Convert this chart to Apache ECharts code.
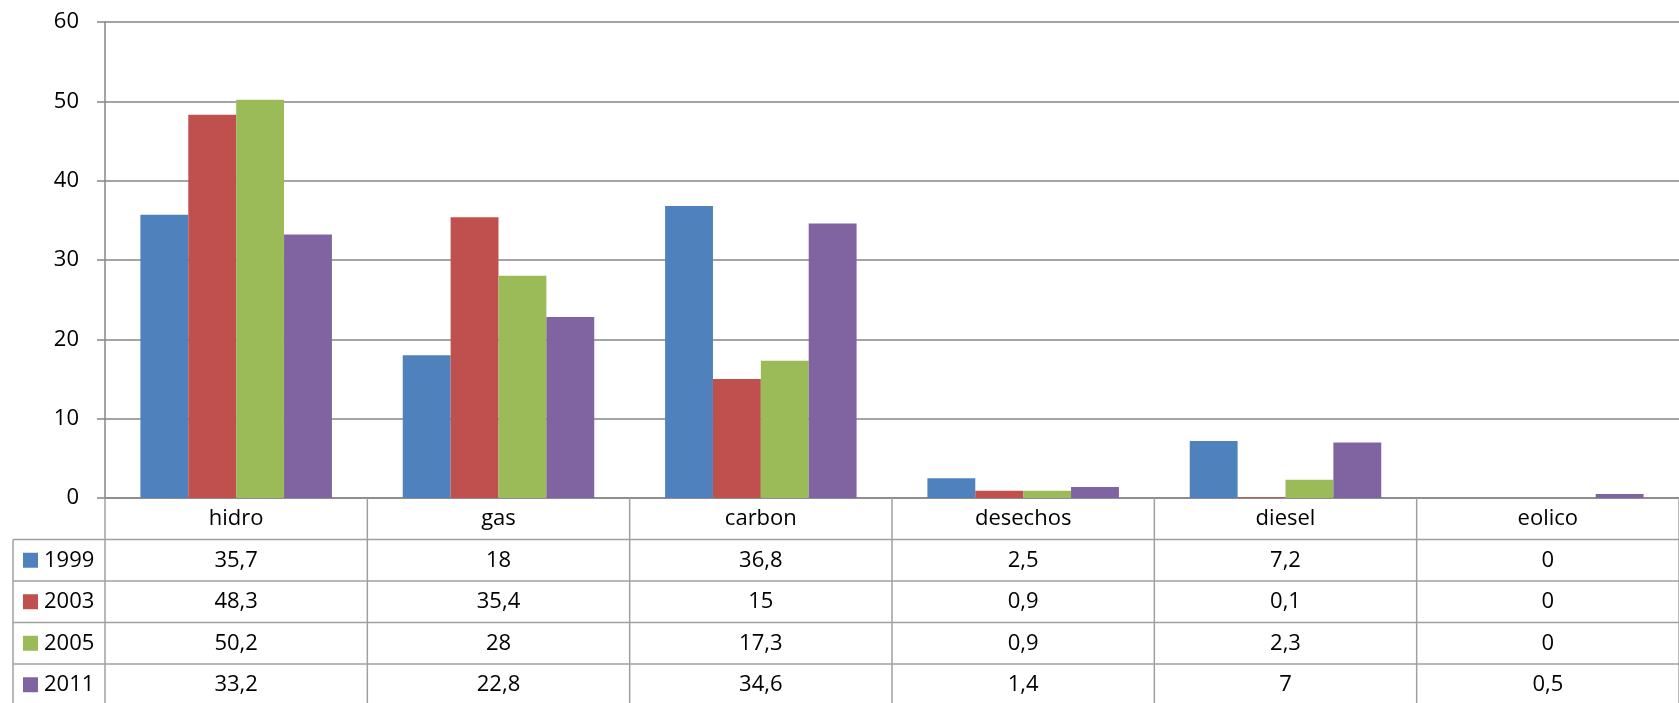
<!DOCTYPE html>
<html>
<head>
<meta charset="utf-8">
<script src="https://cdn.jsdelivr.net/npm/echarts@6/dist/echarts.min.js"></script>
<style>html,body{margin:0;padding:0;background:#fff}#c{width:1679px;height:703px}</style>
</head>
<body>
<div id="c"></div>
<script>
const categories = ['hidro', 'gas', 'carbon', 'desechos', 'diesel', 'eolico'];
const seriesNames = ['1999', '2003', '2005', '2011'];
const v1999 = [35.7, 18, 36.8, 2.5, 7.2, 0];
const v2003 = [48.3, 35.4, 15, 0.9, 0.1, 0];
const v2005 = [50.2, 28, 17.3, 0.9, 2.3, 0];
const v2011 = [33.2, 22.8, 34.6, 1.4, 7, 0.5];
const seriesValues = [v1999, v2003, v2005, v2011];
const colors = ['#4F81BD', '#C0504D', '#9BBB59', '#8064A2'];

const FONT = '"Open Sans", sans-serif';
const TFONT = '22px ' + FONT;
const chart = echarts.init(document.getElementById('c'));
const GRID_TOP = 22, GRID_BOTTOM_Y = 498, ROW_H = 41.5, TABLE_LEFT = 13;

chart.setOption({
  animation: false,
  grid: { left: 105, top: GRID_TOP, right: -7, bottom: 703 - GRID_BOTTOM_Y },
  xAxis: {
    type: 'category', data: categories,
    axisLine: { show: true, lineStyle: { color: '#868686', width: 1.5 } },
    axisTick: { show: false }, axisLabel: { show: false }
  },
  yAxis: {
    type: 'value', min: 0, max: 60, interval: 10,
    axisLine: { show: true, lineStyle: { color: '#868686', width: 1.5 } },
    axisTick: { show: true, length: 8, lineStyle: { color: '#868686', width: 1.5 } },
    splitLine: { lineStyle: { color: '#868686', width: 1.5 } },
    axisLabel: { color: '#000', fontSize: 22, fontFamily: FONT, margin: 26 }
  },
  series: seriesNames.map((n, i) => ({
    name: n, type: 'bar', data: seriesValues[i],
    barGap: '0%', barCategoryGap: '27%',
    itemStyle: { color: colors[i] }
  }))
});

const c0 = chart.convertToPixel({ xAxisIndex: 0 }, 0);
const c1 = chart.convertToPixel({ xAxisIndex: 0 }, 1);
const half = (c1 - c0) / 2;
const g = [];
const lineStyle = { stroke: '#A0A0A0', lineWidth: 1.5 };
const bottomY = GRID_BOTTOM_Y + ROW_H * (seriesNames.length + 1);
for (let k = 0; k <= categories.length; k++) {
  const x = chart.convertToPixel({ xAxisIndex: 0 }, Math.min(k, categories.length - 1)) + (k === categories.length ? half : -half);
  g.push({ type: 'line', shape: { x1: x, y1: GRID_BOTTOM_Y, x2: x, y2: bottomY }, style: lineStyle, z: 10 });
}
g.push({ type: 'line', shape: { x1: TABLE_LEFT, y1: GRID_BOTTOM_Y + ROW_H, x2: TABLE_LEFT, y2: bottomY }, style: lineStyle, z: 10 });
for (let r = 1; r <= seriesNames.length + 1; r++) {
  const y = GRID_BOTTOM_Y + ROW_H * r;
  g.push({ type: 'line', shape: { x1: TABLE_LEFT, y1: y, x2: 1700, y2: y }, style: lineStyle, z: 10 });
}
categories.forEach((cat, i) => {
  const x = chart.convertToPixel({ xAxisIndex: 0 }, i);
  g.push({ type: 'text', x: x, y: GRID_BOTTOM_Y + ROW_H / 2, style: { text: cat, fill: '#000', font: TFONT, align: 'center', verticalAlign: 'middle' }, z: 11 });
});
seriesNames.forEach((n, r) => {
  const cy = GRID_BOTTOM_Y + ROW_H * (r + 1.5);
  g.push({ type: 'rect', shape: { x: 23, y: cy - 7.5, width: 15, height: 15 }, style: { fill: colors[r] }, z: 11 });
  g.push({ type: 'text', x: 44, y: cy, style: { text: n, fill: '#000', font: TFONT, align: 'left', verticalAlign: 'middle' }, z: 11 });
  seriesValues[r].forEach((v, i) => {
    const x = chart.convertToPixel({ xAxisIndex: 0 }, i);
    g.push({ type: 'text', x: x, y: cy, style: { text: String(v).replace('.', ','), fill: '#000', font: TFONT, align: 'center', verticalAlign: 'middle' }, z: 11 });
  });
});
chart.setOption({ graphic: g });
</script>
</body>
</html>
